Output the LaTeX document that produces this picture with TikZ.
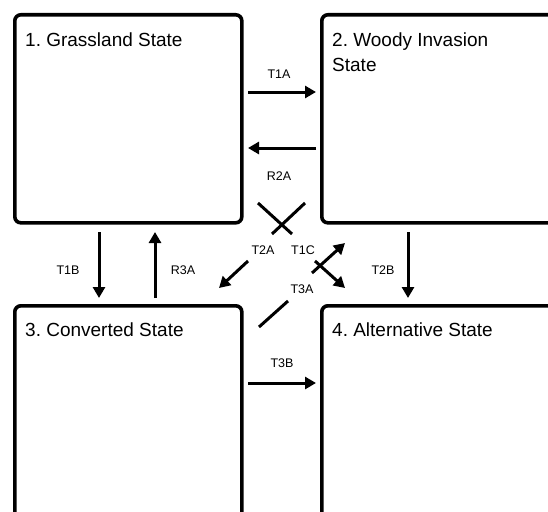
\documentclass[tikz,border=0pt]{standalone}
\usepackage{fontspec}
\setmainfont{Liberation Sans}
\usetikzlibrary{arrows.meta}
\frenchspacing
\begin{document}
\begin{tikzpicture}[x=1pt,y=-1pt,
  statebox/.style={draw, line width=3.6pt, rounded corners=6pt, inner sep=0pt, outer sep=0pt, anchor=north west},
  title/.style={anchor=base west, font=\fontsize{19}{25}\selectfont, inner sep=0pt, align=left},
  lab/.style={font=\fontsize{12.5}{14}\selectfont, inner sep=1pt},
  arr/.style={line width=3pt, -{Triangle[length=11pt,width=12pt]}},
  seg/.style={line width=3pt}]
\useasboundingbox (0,0) rectangle (548,511);
\clip (0,0) rectangle (548,511);
% boxes
\node[statebox, minimum width=227pt, minimum height=208pt] (b1) at (14.8,14.8) {};
\node[statebox, minimum width=250pt, minimum height=208pt] (b2) at (321.8,14.8) {};
\node[statebox, minimum width=227pt, minimum height=240pt] (b3) at (14.8,305.8) {};
\node[statebox, minimum width=250pt, minimum height=240pt] (b4) at (321.8,305.8) {};
% titles
\node[title] (t1) at (25,46) {1. Grassland State};
\node[title] (t2) at (332,71) {2. Woody Invasion\\State};
\node[title] (t3) at (25,336) {3. Converted State};
\node[title] (t4) at (332,336) {4. Alternative State};
% connector end points
\coordinate (a1s) at (248,92);  \coordinate (a1e) at (316,92);
\coordinate (r2s) at (316,148); \coordinate (r2e) at (248,148);
\coordinate (b3s) at (248,383); \coordinate (b3e) at (316,383);
\coordinate (t1bs) at (99,232); \coordinate (t1be) at (99,298);
\coordinate (r3s) at (155,298); \coordinate (r3e) at (155,232);
\coordinate (t2bs) at (408,232); \coordinate (t2be) at (408,298);
\coordinate (x1s) at (258,203); \coordinate (x1e) at (292,234);
\coordinate (x2s) at (305,203); \coordinate (x2e) at (272,234);
\coordinate (t2as) at (248,261); \coordinate (t2ae) at (219,288);
\coordinate (t1cs) at (312,273); \coordinate (t1ce) at (345,243);
\coordinate (t3as) at (315,261); \coordinate (t3ae) at (345,288);
\coordinate (ls) at (288,301); \coordinate (le) at (259,327);
% connectors
\draw[arr] (a1s) -- (a1e);
\draw[arr] (r2s) -- (r2e);
\draw[arr] (b3s) -- (b3e);
\draw[arr] (t1bs) -- (t1be);
\draw[arr] (r3s) -- (r3e);
\draw[arr] (t2bs) -- (t2be);
\draw[seg] (x1s) -- (x1e);
\draw[seg] (x2s) -- (x2e);
\draw[arr] (t2as) -- (t2ae);
\draw[arr] (t1cs) -- (t1ce);
\draw[arr] (t3as) -- (t3ae);
\draw[seg] (ls) -- (le);
% labels
\node[lab] (l1) at (279,74) {T1A};
\node[lab] (l2) at (279,176) {R2A};
\node[lab] (l3) at (282,363) {T3B};
\node[lab] (l4) at (68,270) {T1B};
\node[lab] (l5) at (183,270) {R3A};
\node[lab] (l6) at (383,270) {T2B};
\node[lab] (l7) at (263,250) {T2A};
\node[lab] (l8) at (303,250) {T1C};
\node[lab] (l9) at (302,289) {T3A};
\end{tikzpicture}
\end{document}
